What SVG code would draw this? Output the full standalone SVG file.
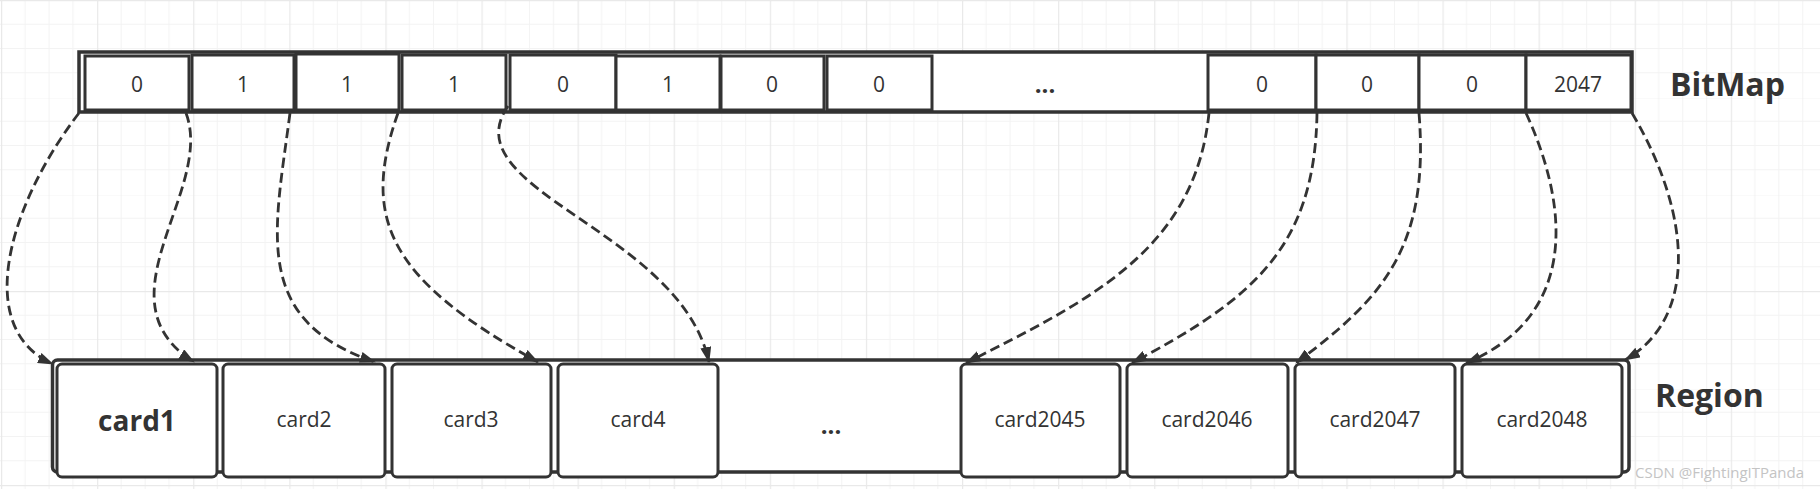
<svg xmlns="http://www.w3.org/2000/svg" width="1820" height="489" viewBox="0 0 1820 489">
<style>
.box{fill:#fff;stroke:#333;stroke-width:3}
.frame{fill:#fff;stroke:#333;stroke-width:3.5}
.num{font-family:"Open Sans","Noto Sans",sans-serif;font-size:21px;fill:#333;text-anchor:middle}
.card{font-family:"Open Sans","Noto Sans",sans-serif;font-size:21px;fill:#333;text-anchor:middle}
.bold{font-weight:bold}
.title{font-family:"Open Sans","Noto Sans",sans-serif;font-size:32px;font-weight:bold;fill:#333}
.dots{font-family:"Open Sans","Noto Sans",sans-serif;font-size:24px;font-weight:bold;fill:#333;text-anchor:middle}
.link{fill:none;stroke:#333;stroke-width:2.8;stroke-dasharray:10 5;marker-end:url(#arrow)}
</style>
<defs>
<pattern id="grid" patternUnits="userSpaceOnUse" x="1" y="0" width="96.1" height="97">
<path d="M24,0V97M48,0V97M72,0V97M0,24.25H96.1M0,48.5H96.1M0,72.75H96.1" stroke="#f3f3f3" stroke-width="1" fill="none"/>
<path d="M0.5,0V97M0,0.5H96.1" stroke="#e9e9e9" stroke-width="1.5" fill="none"/>
</pattern>
<marker id="arrow" markerUnits="userSpaceOnUse" markerWidth="16" markerHeight="11" refX="15" refY="5.5" orient="auto">
<path d="M0,0 L16,5.5 L0,11 z" fill="#333"/>
</marker>
</defs>
<rect x="0" y="0" width="1820" height="489" fill="#fff"/>
<rect x="0" y="0" width="1820" height="489" fill="url(#grid)"/>

<g id="bitmap">
<rect class="frame" x="79" y="52" width="1553" height="60"/>
<g id="bit0"><rect class="box" x="85" y="56" width="104" height="54"/><text class="num" x="137" y="92">0</text></g>
<g id="bit1"><rect class="box" x="192" y="55" width="102" height="55"/><text class="num" x="243" y="92">1</text></g>
<g id="bit2"><rect class="box" x="296" y="54" width="103" height="56"/><text class="num" x="347" y="92">1</text></g>
<g id="bit3"><rect class="box" x="402" y="55" width="104" height="55"/><text class="num" x="454" y="92">1</text></g>
<g id="bit4"><rect class="box" x="510" y="55" width="106" height="55"/><text class="num" x="563" y="92">0</text></g>
<g id="bit5"><rect class="box" x="616" y="56" width="104" height="54"/><text class="num" x="668" y="92">1</text></g>
<g id="bit6"><rect class="box" x="721" y="56" width="103" height="54"/><text class="num" x="772" y="92">0</text></g>
<g id="bit7"><rect class="box" x="827" y="56" width="105" height="54"/><text class="num" x="879" y="92">0</text></g>
<g id="bitdots"><text class="dots" x="1045" y="93">...</text></g>
<g id="bit8"><rect class="box" x="1208" y="55" width="108" height="55"/><text class="num" x="1262" y="92">0</text></g>
<g id="bit9"><rect class="box" x="1316" y="55" width="103" height="55"/><text class="num" x="1367" y="92">0</text></g>
<g id="bit10"><rect class="box" x="1419" y="55" width="107" height="55"/><text class="num" x="1472" y="92">0</text></g>
<g id="bit11"><rect class="box" x="1526" y="55" width="105" height="55"/><text class="num" x="1578" y="92">2047</text></g>
</g>
<g id="bitmap-label"><text class="title" x="1670" y="96">BitMap</text></g>

<g id="region">
<rect class="frame" x="52.5" y="360" width="1576.5" height="112" rx="5"/>
<g id="card1"><rect class="box" x="57" y="364" width="160" height="113" rx="5"/><text class="card bold" x="137" y="431" style="font-size:28px">card1</text></g>
<g id="card2"><rect class="box" x="223" y="364" width="162" height="113" rx="5"/><text class="card" x="304" y="427">card2</text></g>
<g id="card3"><rect class="box" x="392" y="364" width="159" height="113" rx="5"/><text class="card" x="471" y="427">card3</text></g>
<g id="card4"><rect class="box" x="558" y="364" width="160" height="113" rx="5"/><text class="card" x="638" y="427">card4</text></g>
<g id="carddots"><text class="dots" x="831" y="434">...</text></g>
<g id="card2045"><rect class="box" x="961" y="364" width="159" height="113" rx="5"/><text class="card" x="1040" y="427">card2045</text></g>
<g id="card2046"><rect class="box" x="1127" y="364" width="161" height="113" rx="5"/><text class="card" x="1207" y="427">card2046</text></g>
<g id="card2047"><rect class="box" x="1295" y="364" width="160" height="113" rx="5"/><text class="card" x="1375" y="427">card2047</text></g>
<g id="card2048"><rect class="box" x="1462" y="364" width="160" height="113" rx="5"/><text class="card" x="1542" y="427">card2048</text></g>
</g>
<g id="region-label"><text class="title" x="1655" y="407">Region</text></g>

<g id="connectors">
<path class="link" d="M79,113 C5,210 -25,330 53,364"/>
<path class="link" d="M186,113 C215,190 95,300 194,362"/>
<path class="link" d="M290,113 C275,230 250,320 375,362"/>
<path class="link" d="M398,113 C360,220 390,280 538,362"/>
<path class="link" d="M508,106 C450,190 680,230 709,362"/>
<path class="link" d="M1209,113 C1195,250 1090,300 966,363"/>
<path class="link" d="M1317,113 C1315,250 1250,300 1132,363"/>
<path class="link" d="M1419,113 C1430,250 1380,300 1296,363"/>
<path class="link" d="M1526,113 C1575,220 1570,320 1466,363"/>
<path class="link" d="M1632,113 C1695,220 1695,320 1625,360"/>
</g>

<text x="1635" y="478" style="font-family:'Open Sans','Noto Sans',sans-serif;font-size:15px;fill:#c4c4c4">CSDN @FightingITPanda</text>
</svg>
